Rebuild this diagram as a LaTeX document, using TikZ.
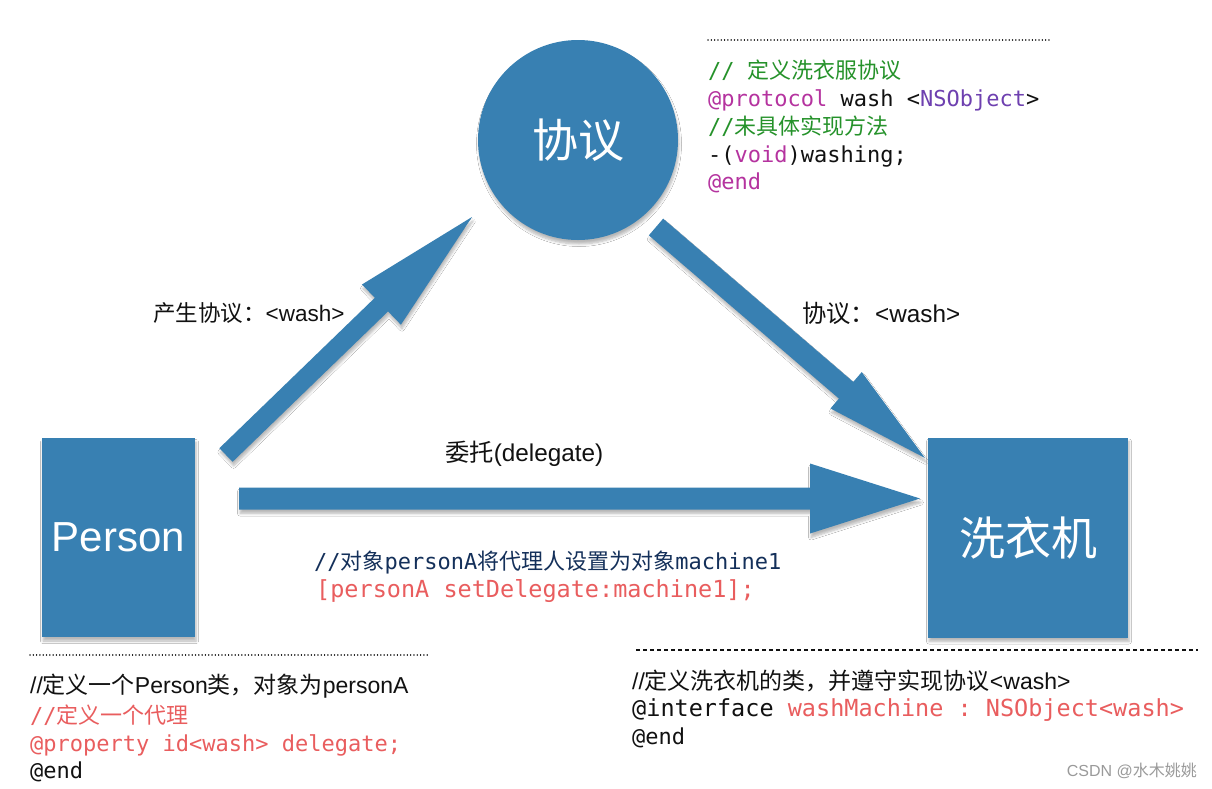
\documentclass[tikz,border=0pt]{standalone}
\usepackage{fontspec}
\setmainfont{Liberation Sans}
\setmonofont{DejaVu Sans Mono}
\newfontfamily\cjk{Noto Sans CJK SC}
\usetikzlibrary{calc,shadows.blur}
\definecolor{blueshape}{HTML}{3880B2}
\definecolor{cgreen}{HTML}{25922A}
\definecolor{ckey}{HTML}{B5339F}
\definecolor{cpurple}{HTML}{6E40B0}
\definecolor{cred}{HTML}{E95D5E}
\definecolor{cnavy}{HTML}{14305A}
\definecolor{textblack}{HTML}{111111}
\definecolor{wmgray}{HTML}{9A9A9A}
\newcommand\zh[1]{{\cjk #1}}
% tail, tip, half shaft width, half head width, head length
\newcommand\blockarrow[5]{%
  \coordinate (#1-base) at ($(#2)!#5!(#1)$);
  \fill[shapefill]
    ($(#1)!#3!90:(#2)$) --
    ($(#1-base)!#3!90:(#2)$) --
    ($(#1-base)!#4!90:(#2)$) --
    (#2) --
    ($(#1-base)!#4!-90:(#2)$) --
    ($(#1-base)!#3!-90:(#2)$) --
    ($(#1)!#3!-90:(#2)$) -- cycle;
}
\tikzset{
  shapefill/.style={fill=blueshape, blur shadow={shadow xshift=1pt, shadow yshift=-4pt, shadow blur steps=6, shadow opacity=28, shadow blur radius=2.5pt}},
  bluebox/.style={shapefill, draw=none, inner sep=0pt, text=white, font=\fontsize{42}{48}\selectfont},
  bluecircle/.style={shapefill, circle, draw=none, inner sep=0pt, text=white, font=\fontsize{46}{52}\selectfont},
  lbl/.style={anchor=base west, inner sep=0pt, text=textblack, font=\fontsize{23}{27}\selectfont},
  codetxt/.style={anchor=base west, inner sep=0pt, text=textblack, font=\ttfamily\fontsize{22}{26}\selectfont},
  bigcode/.style={codetxt, font=\ttfamily\fontsize{23.5}{28}\selectfont},
  dotline/.style={draw=textblack, line width=1.5pt, dash pattern=on 0.01pt off 3.3pt, line cap=round},
  dashline/.style={draw=textblack, line width=1.3pt, dash pattern=on 4pt off 3pt}
}
\begin{document}
\begin{tikzpicture}[x=1pt,y=-1pt]
\useasboundingbox (0,0) rectangle (1212,788);
\fill[white] (0,0) rectangle (1212,788);

% main shapes
\node[bluebox, minimum width=153pt, minimum height=199pt] (person) at (118.5,537.5) {Person};
\node[bluebox, minimum size=200pt, font=\cjk\fontsize{46}{52}\selectfont] (machine) at (1028,537.5) {洗衣机};
\node[bluecircle, minimum size=200pt, font=\cjk\fontsize{46}{52}\selectfont] (proto) at (578,140) {协议};

% block arrows
\coordinate (a1tail) at (226,455);
\coordinate (a1tip) at (472,217);
\coordinate (a2tail) at (656,227);
\coordinate (a2tip) at (925,458);
\coordinate (a3tail) at (239,498.5);
\coordinate (a3tip) at (920,498.5);
\blockarrow{a1tail}{a1tip}{9.5pt}{28pt}{126pt}
\blockarrow{a2tail}{a2tip}{11pt}{24pt}{104pt}
\blockarrow{a3tail}{a3tip}{11pt}{35pt}{110pt}

% arrow labels
\node[lbl, font=\fontsize{22.5}{27}\selectfont] (l1) at (153,321) {\zh{产生协议：}<wash>};
\node[lbl, font=\fontsize{24.3}{28}\selectfont] (l2) at (802,322) {\zh{协议：}<wash>};
\node[lbl, font=\fontsize{24.3}{28}\selectfont] (l3) at (445,461) {\zh{委托}(delegate)};

% protocol code
\draw[dotline] (708,40) -- (1052,40);
\node[codetxt, text=cgreen] (t1) at (708,78) {// \zh{定义洗衣服协议}};
\node[codetxt] (t2) at (708,106) {{\color{ckey}@protocol} wash <{\color{cpurple}NSObject}>};
\node[codetxt, text=cgreen] (t3) at (708,134) {//\zh{未具体实现方法}};
\node[codetxt] (t4) at (708,162) {-({\color{ckey}void})washing;};
\node[codetxt, text=ckey] (t5) at (708,189) {@end};

% middle code
\node[codetxt, text=cnavy] (m1) at (314,569) {//\zh{对象}personA\zh{将代理人设置为对象}machine1};
\node[bigcode, text=cred] (m2) at (316,597) {[personA setDelegate:machine1];};

% bottom left
\draw[dotline] (30,655) -- (428,655);
\node[lbl] (b1) at (30,693) {//\zh{定义一个}Person\zh{类，对象为}personA};
\node[codetxt, text=cred] (b2) at (30,723) {//\zh{定义一个代理}};
\node[codetxt, text=cred] (b3) at (30,751) {@property id<wash> delegate;};
\node[codetxt] (b4) at (30,778) {@end};

% bottom right
\draw[dashline] (636,650) -- (1198,650);
\node[lbl] (r1) at (632,689) {//\zh{定义洗衣机的类，并遵守实现协议}<wash>};
\node[bigcode] (r2) at (632,716) {@interface {\color{cred}washMachine : NSObject<wash>}};
\node[codetxt] (r3) at (632,744) {@end};

% watermark
\node[anchor=base east, inner sep=0pt, text=wmgray, font=\fontsize{16}{19}\selectfont] (wm) at (1197,776) {CSDN @\zh{水木姚姚}};
\end{tikzpicture}
\end{document}
